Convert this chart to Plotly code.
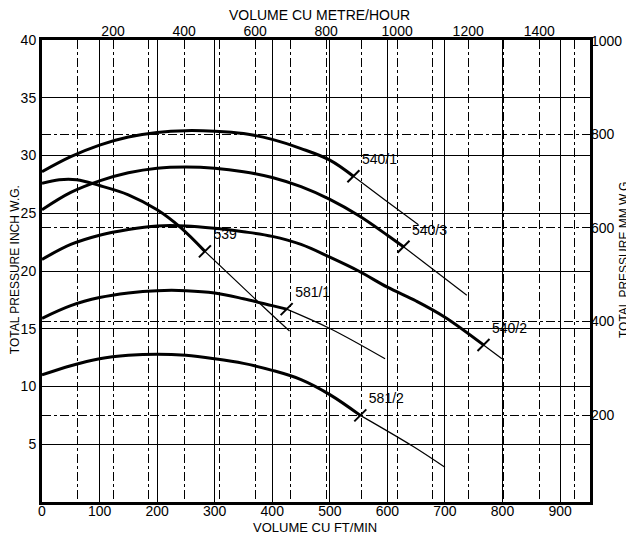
import plotly.graph_objects as go

# ---- data (cfm, inch W.G.) ----
fan_labels = ["540/1", "540/3", "540/2", "539", "581/1", "581/2"]

thick_x = {
    "540/1": [0, 50, 100, 150, 200, 250, 300, 350, 400, 450, 500, 541],
    "540/3": [0, 50, 100, 150, 200, 250, 300, 350, 400, 450, 500, 550, 600, 628],
    "540/2": [0, 50, 100, 150, 200, 250, 300, 350, 400, 450, 500, 550, 600, 650, 700, 767],
    "539":   [0, 30, 60, 100, 150, 200, 240, 283],
    "581/1": [0, 50, 100, 150, 200, 250, 300, 350, 400, 425],
    "581/2": [0, 50, 100, 150, 200, 250, 300, 350, 400, 450, 500, 553],
}
thick_y = {
    "540/1": [28.6, 29.9, 30.9, 31.6, 32.0, 32.15, 32.1, 31.9, 31.4, 30.6, 29.6, 28.2],
    "540/3": [25.3, 26.8, 27.8, 28.5, 28.9, 29.0, 28.9, 28.6, 28.1, 27.3, 26.2, 24.8, 23.1, 22.1],
    "540/2": [21.0, 22.3, 23.1, 23.6, 23.9, 23.9, 23.7, 23.4, 23.0, 22.3, 21.2, 20.0, 18.6, 17.4, 16.0, 13.6],
    "539":   [27.6, 27.9, 27.9, 27.4, 26.6, 25.3, 23.8, 21.7],
    "581/1": [15.9, 17.0, 17.7, 18.1, 18.3, 18.3, 18.1, 17.6, 17.0, 16.7],
    "581/2": [11.0, 11.8, 12.4, 12.7, 12.8, 12.7, 12.4, 12.0, 11.4, 10.6, 9.3, 7.5],
}
thin_x = {
    "540/1": [541, 597, 654],
    "540/3": [628, 683, 738],
    "540/2": [767, 799],
    "539":   [283, 391, 430],
    "581/1": [425, 501, 596],
    "581/2": [553, 645, 700],
}
thin_y = {
    "540/1": [28.2, 26.1, 24.0],
    "540/3": [22.1, 20.0, 17.9],
    "540/2": [13.6, 12.4],
    "539":   [21.7, 16.6, 14.8],
    "581/1": [16.7, 15.0, 12.4],
    "581/2": [7.5, 4.8, 3.0],
}
mark_x = [541, 628, 767, 283, 425, 553]
mark_y = [28.2, 22.1, 13.6, 21.7, 16.7, 7.5]

x_ticks = [0, 100, 200, 300, 400, 500, 600, 700, 800, 900]
x2_ticks = [200, 400, 600, 800, 1000, 1200, 1400]
y_ticks = [5, 10, 15, 20, 25, 30, 35, 40]
y2_ticks = [200, 400, 600, 800, 1000]

FONT = "Liberation Sans, Arial, sans-serif"

fig = go.Figure()

for name in fan_labels:
    fig.add_trace(go.Scatter(x=thick_x[name], y=thick_y[name], mode="lines",
                             line=dict(color="black", width=3, shape="spline"),
                             hoverinfo="skip", showlegend=False))
    fig.add_trace(go.Scatter(x=thin_x[name], y=thin_y[name], mode="lines",
                             line=dict(color="black", width=1.2, shape="spline"),
                             hoverinfo="skip", showlegend=False))

fig.add_trace(go.Scatter(x=mark_x, y=mark_y, mode="markers+text",
                         marker=dict(symbol="line-ne", size=12, color="black",
                                     line=dict(color="black", width=2)),
                         text=fan_labels, textposition="top right",
                         textfont=dict(family=FONT, size=14, color="black"),
                         hoverinfo="skip", showlegend=False))

# invisible trace to activate secondary axes
fig.add_trace(go.Scatter(x=[0], y=[14], xaxis="x2", yaxis="y2", mode="markers",
                         marker=dict(opacity=0), hoverinfo="skip", showlegend=False))

tickfont = dict(family=FONT, size=14, color="black")

# page body has an 8px margin: figure is sized/offset to compensate
fig.update_layout(
    width=626, height=532,
    margin=dict(l=34, r=44, t=32, b=38, autoexpand=False),
    paper_bgcolor="white", plot_bgcolor="white",
    xaxis=dict(range=[0, 952], tickvals=x_ticks, showgrid=True, gridcolor="black",
               gridwidth=1.2, zeroline=False, showline=True, linecolor="black",
               linewidth=3, mirror=True, ticks="", tickfont=tickfont,
               ticklabelstandoff=-6),
    xaxis2=dict(range=[0, 1543], overlaying="x", side="top", tickvals=x2_ticks,
                showgrid=True, gridcolor="black", gridwidth=1, griddash="dashdot",
                minor=dict(tick0=0, dtick=100, showgrid=True, gridcolor="black",
                           gridwidth=1, griddash="dashdot"),
                zeroline=False, showline=False, ticks="", tickfont=tickfont),
    yaxis=dict(range=[0, 40], tickvals=y_ticks, showgrid=True, gridcolor="black",
               gridwidth=1.2, zeroline=False, showline=True, linecolor="black",
               linewidth=3, mirror=True, ticks="", tickfont=tickfont),
    yaxis2=dict(range=[14, 1002], overlaying="y", side="right", tickvals=y2_ticks,
                showgrid=True, gridcolor="black", gridwidth=1, griddash="dashdot",
                zeroline=False, showline=False, ticks="", tickfont=tickfont),
    annotations=[
        dict(text="VOLUME CU FT/MIN", xref="paper", yref="paper", x=0.498, y=-0.055,
             xanchor="center", yanchor="middle",
             showarrow=False, font=dict(family=FONT, size=13, color="black")),
        dict(text="VOLUME CU METRE/HOUR", xref="paper", yref="paper", x=0.507, y=1.054,
             xanchor="center", yanchor="middle",
             showarrow=False, font=dict(family=FONT, size=14, color="black")),
        dict(text="TOTAL PRESSURE INCH W.G.", xref="paper", yref="paper", x=-0.049, y=0.502,
             xanchor="center", yanchor="middle",
             textangle=-90, showarrow=False, font=dict(family=FONT, size=12, color="black")),
        dict(text="TOTAL PRESSURE MM W.G.", xref="paper", yref="paper", x=1.062, y=0.528,
             xanchor="center", yanchor="middle",
             textangle=-90, showarrow=False, font=dict(family=FONT, size=12, color="black")),
    ],
)

fig.write_html("out.html")
